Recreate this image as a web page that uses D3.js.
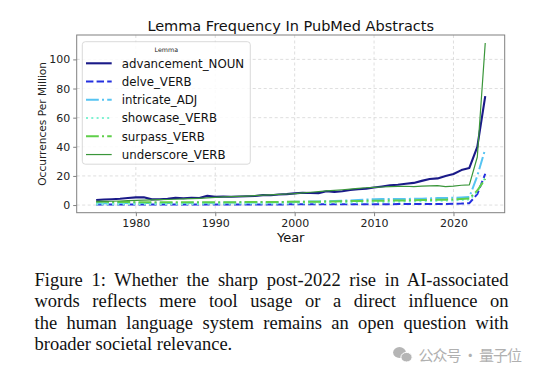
<!DOCTYPE html>
<html><head><meta charset="utf-8">
<script src="https://cdn.jsdelivr.net/npm/d3@7"></script>
<style>
body{margin:0;background:#fff;width:540px;height:372px;overflow:hidden;position:relative}
svg{position:absolute;left:0;top:0}
.cap{position:absolute;left:34.5px;width:474px;font-family:"Liberation Serif","Times New Roman",serif;font-size:18.5px;line-height:18.5px;color:#111;text-align:justify;text-align-last:justify}
.cap.last{text-align:left;text-align-last:left}
</style></head>
<body>
<svg id="chart" width="540" height="372"></svg>
<script>
const years = [1975,1976,1977,1978,1979,1980,1981,1982,1983,1984,1985,1986,1987,1988,1989,1990,1991,1992,1993,1994,1995,1996,1997,1998,1999,2000,2001,2002,2003,2004,2005,2006,2007,2008,2009,2010,2011,2012,2013,2014,2015,2016,2017,2018,2019,2020,2021,2022,2023,2024];
const advancement = [3.4,3.8,4.0,4.3,4.8,5.3,5.4,3.9,4.0,4.3,5.0,4.7,5.0,4.8,6.3,5.6,5.8,5.7,5.9,6.0,6.2,6.8,6.7,7.3,7.5,8.0,8.5,8.3,8.2,9.5,9.0,9.5,10.3,10.8,11.3,12.0,12.8,13.6,13.9,14.6,15.2,16.6,17.9,18.3,20.0,21.3,24.0,25.5,40.0,74.8];
const delve = [0.3,0.3,0.3,0.3,0.3,0.3,0.3,0.3,0.3,0.3,0.4,0.4,0.4,0.4,0.4,0.4,0.4,0.4,0.4,0.4,0.4,0.4,0.4,0.4,0.5,0.5,0.5,0.5,0.5,0.5,0.5,0.5,0.6,0.6,0.6,0.6,0.6,0.6,0.7,0.7,0.7,0.7,0.8,0.8,0.8,0.9,1.0,1.3,7.5,21.5];
const intricate = [1.3,1.3,1.3,1.4,1.4,1.4,1.4,1.4,1.5,1.5,1.5,1.5,1.6,1.6,1.6,1.6,1.7,1.7,1.7,1.8,1.8,1.9,1.9,2.0,2.1,2.2,2.3,2.4,2.5,2.6,2.8,3.0,3.2,3.5,3.8,4.0,4.1,4.1,4.2,4.2,4.3,4.4,4.5,4.8,4.9,5.0,5.2,5.5,20.0,38.5];
const showcase = [0.6,0.6,0.6,0.6,0.7,0.7,0.7,0.7,0.7,0.8,0.8,0.8,0.8,0.8,0.9,0.9,0.9,0.9,1.0,1.0,1.0,1.0,1.1,1.1,1.1,1.2,1.2,1.3,1.3,1.4,1.5,1.6,1.7,1.8,1.9,2.0,2.1,2.2,2.3,2.4,2.5,2.6,2.7,2.9,3.0,3.2,3.5,3.8,9.0,19.0];
const surpass = [2.2,2.2,2.1,2.1,2.1,2.0,2.0,2.0,2.0,2.0,2.0,2.0,2.0,2.0,2.0,2.0,2.0,2.0,2.0,2.1,2.1,2.1,2.1,2.1,2.2,2.2,2.2,2.3,2.3,2.4,2.5,2.6,2.7,2.8,2.9,3.0,3.0,3.1,3.1,3.2,3.3,3.4,3.5,3.6,3.7,3.9,4.2,4.5,10.0,18.0];
const underscore = [2.4,2.5,2.6,2.8,3.0,3.2,3.4,3.5,3.7,3.8,4.0,4.2,4.4,4.6,4.9,5.3,5.6,5.8,6.0,6.2,6.5,6.8,7.0,7.3,7.6,7.9,8.4,8.8,9.2,9.7,10.1,10.5,11.0,11.5,11.9,12.2,12.4,12.6,12.8,12.9,12.7,13.0,13.2,13.3,12.6,13.0,13.6,13.9,33.0,111.2];
const seriesNames = ["advancement_NOUN","delve_VERB","intricate_ADJ","showcase_VERB","surpass_VERB","underscore_VERB"];
const seriesValues = [advancement, delve, intricate, showcase, surpass, underscore];
const xTicks = [1980,1990,2000,2010,2020];
const yTicks = [0,20,40,60,80,100];
const titleText = "Lemma Frequency In PubMed Abstracts";
const xLabel = "Year";
const yLabel = "Occurrences Per Million";
const legendTitle = "Lemma";
const captionLines = [
 "Figure 1: Whether the sharp post-2022 rise in AI-associated",
 "words reflects mere tool usage or a direct influence on",
 "the human language system remains an open question with",
 "broader societal relevance."
];
const watermark = "公众号 · 量子位";

const styles = [
 {color:"#1a1a88", width:2.1, dash:null},
 {color:"#2430e0", width:2, dash:"7.4,3.2"},
 {color:"#56c4f2", width:2, dash:"12.8,3.2,2,3.2"},
 {color:"#7ff2d2", width:2, dash:"2,3.3"},
 {color:"#5fcf4a", width:2, dash:"12.8,3.2,2,3.2"},
 {color:"#3a963a", width:1.2, dash:null}
];

const svg = d3.select("#chart");
svg.append("rect").attr("width",540).attr("height",372).attr("fill","#fff");
const L=76.7, R=504.7, T=35, B=212.7;
const xe = d3.extent(years), xr = xe[1]-xe[0];
const allV = seriesValues.flat();
const ye = d3.extent(allV), yr = ye[1]-ye[0];
const x = d3.scaleLinear().domain([xe[0]-0.05*xr, xe[1]+0.05*xr]).range([L,R]);
const y = d3.scaleLinear().domain([ye[0]-0.05*yr, ye[1]+0.05*yr]).range([B,T]);
const sans = "DejaVu Sans, sans-serif";

// grid
const g = svg.append("g");
g.selectAll(".gx").data(xTicks).join("line").attr("x1",d=>x(d)).attr("x2",d=>x(d)).attr("y1",T).attr("y2",B)
 .attr("stroke","#d6d6d6").attr("stroke-width",0.8).attr("stroke-dasharray","3,2.5");
g.selectAll(".gy").data(yTicks).join("line").attr("y1",d=>y(d)).attr("y2",d=>y(d)).attr("x1",L).attr("x2",R)
 .attr("stroke","#d6d6d6").attr("stroke-width",0.8).attr("stroke-dasharray","3,2.5");

// lines
const line = d3.line().x((d,i)=>x(years[i])).y(d=>y(d));
seriesValues.forEach((vals,k)=>{
  const st = styles[k];
  svg.append("path").datum(vals).attr("d",line).attr("fill","none")
    .attr("stroke",st.color).attr("stroke-width",st.width).attr("stroke-dasharray",st.dash)
    .attr("stroke-linejoin","round");
});

// frame
svg.append("rect").attr("x",L).attr("y",T).attr("width",R-L).attr("height",B-T)
 .attr("fill","none").attr("stroke","#808080").attr("stroke-width",1);

// axes
const xa = svg.append("g").attr("transform",`translate(0,${B})`)
 .call(d3.axisBottom(x).tickValues(xTicks).tickFormat(d3.format("d")).tickSize(3.5).tickPadding(3));
const ya = svg.append("g").attr("transform",`translate(${L},0)`)
 .call(d3.axisLeft(y).tickValues(yTicks).tickSize(3.5).tickPadding(3));
[xa,ya].forEach(a=>{
  a.select(".domain").remove();
  a.selectAll("line").attr("stroke","#808080");
  a.selectAll("text").attr("font-family",sans).attr("font-size",11).attr("fill","#222");
});

// titles
svg.append("text").attr("x",(L+R)/2).attr("y",31).attr("text-anchor","middle")
 .attr("font-family",sans).attr("font-size",14.5).attr("fill","#111").text(titleText);
svg.append("text").attr("x",(L+R)/2).attr("y",242).attr("text-anchor","middle")
 .attr("font-family",sans).attr("font-size",13).attr("fill","#111").text(xLabel);
svg.append("text").attr("transform",`translate(45.5,${(T+B)/2}) rotate(-90)`).attr("text-anchor","middle")
 .attr("font-family",sans).attr("font-size",10.6).attr("fill","#222").text(yLabel);

// legend
const lg = svg.append("g");
lg.append("rect").attr("x",82.3).attr("y",41.7).attr("width",168).attr("height",122.5).attr("rx",3)
 .attr("fill","#fff").attr("fill-opacity",0.85).attr("stroke","#d0d0d0").attr("stroke-width",0.8);
lg.append("text").attr("x",166.3).attr("y",51.5).attr("text-anchor","middle")
 .attr("font-family",sans).attr("font-size",6.3).attr("fill","#222").text(legendTitle);
seriesNames.forEach((n,k)=>{
  const yy = 63.3 + k*18.25, st = styles[k];
  lg.append("line").attr("x1",86).attr("x2",111.7).attr("y1",yy).attr("y2",yy)
    .attr("stroke",st.color).attr("stroke-width",st.width).attr("stroke-dasharray",st.dash);
  lg.append("text").attr("x",121.7).attr("y",yy+4.2).attr("font-family",sans).attr("font-size",11.8)
    .attr("fill","#111").text(n);
});

// watermark
const wm = svg.append("g").attr("fill","#b5b5b5");
wm.append("ellipse").attr("cx",399.5).attr("cy",352.5).attr("rx",6.4).attr("ry",5.4);
wm.append("ellipse").attr("cx",406.5).attr("cy",357.2).attr("rx",5.6).attr("ry",4.8).attr("stroke","#fff").attr("stroke-width",1);
wm.append("text").attr("x",418.5).attr("y",360.5).attr("font-family","Noto Sans CJK SC, sans-serif")
 .attr("font-size",15).attr("textLength",103.5).attr("lengthAdjust","spacing")
 .attr("fill","#b0b0b0").text(watermark);

// caption
const tops = [270.5, 292, 313.5, 334.5];
captionLines.forEach((t,i)=>{
  d3.select("body").append("div").attr("class","cap"+(i===captionLines.length-1?" last":""))
    .style("top",tops[i]+"px").text(t);
});
</script>
</body></html>
